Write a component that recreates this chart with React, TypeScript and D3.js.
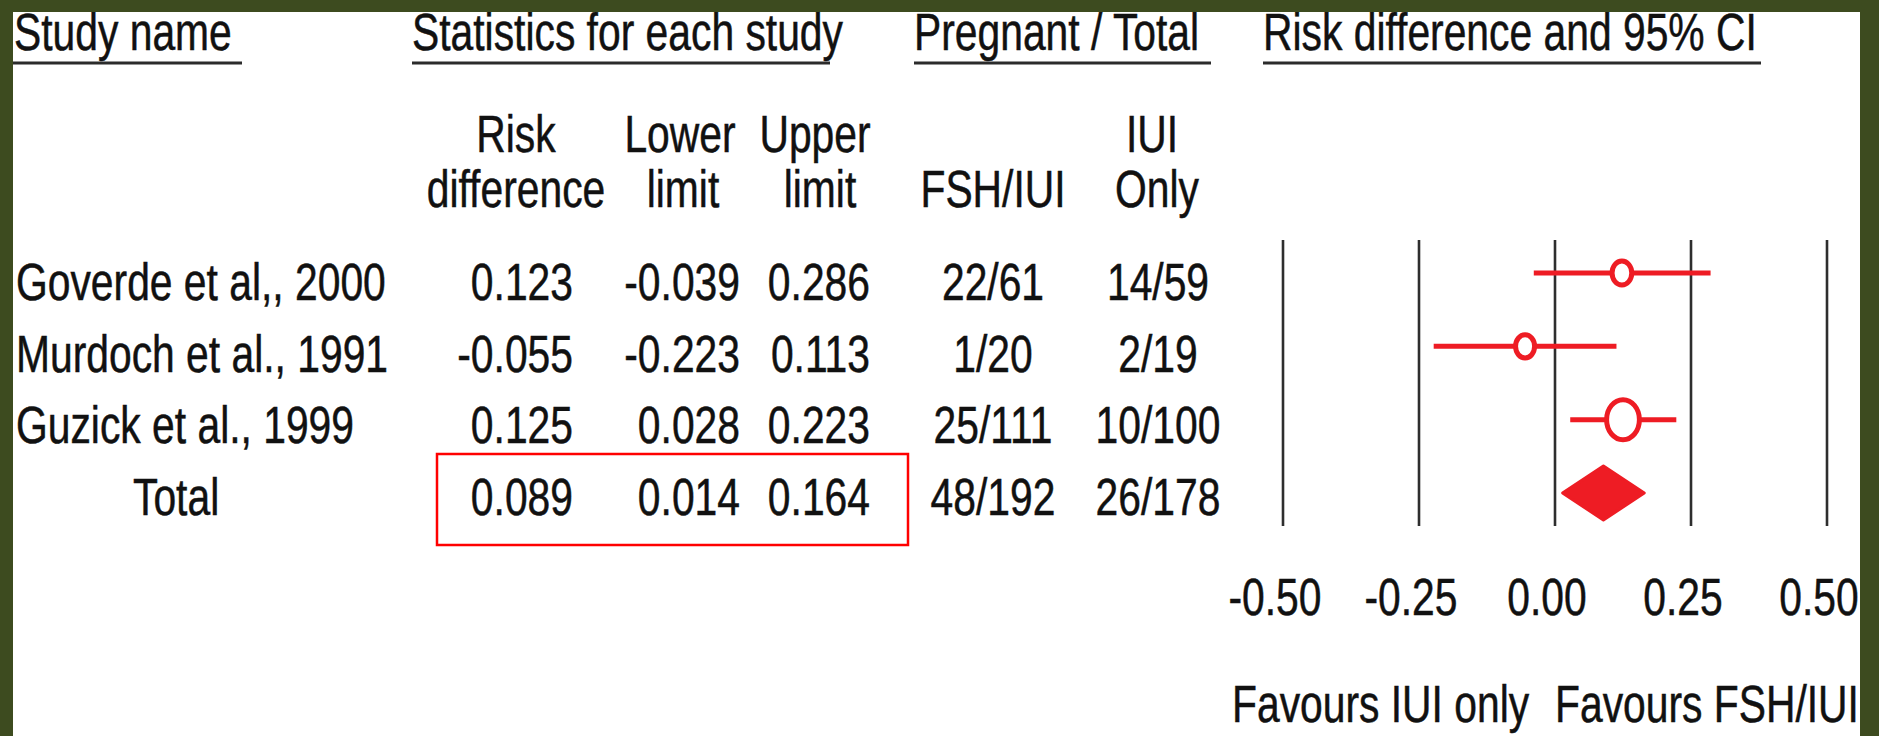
import React, { useEffect } from "react";
import * as d3 from "d3";

// Study-level data for the forest plot
const studies = ["Goverde et al,, 2000", "Murdoch et al., 1991", "Guzick et al., 1999"];
const riskDiff = [0.123, -0.055, 0.125];
const lowerLimit = [-0.039, -0.223, 0.028];
const upperLimit = [0.286, 0.113, 0.223];
const pregnantFsh = ["22/61", "1/20", "25/111"];
const pregnantIui = ["14/59", "2/19", "10/100"];

// Pooled estimate
const totalLabel = "Total";
const totalRiskDiff = 0.089;
const totalLower = 0.014;
const totalUpper = 0.164;
const totalFsh = "48/192";
const totalIui = "26/178";

const axisTicks = [-0.5, -0.25, 0, 0.25, 0.5];
const favourLabels = ["Favours IUI only", "Favours FSH/IUI"];

const W = 1879;
const H = 736;
const FONT = "'Liberation Sans', Arial, Helvetica, sans-serif";
const FS = 52;
const SX = 0.785; // narrow glyphs
const RED = "#ee1c24";
const INK = "#111";

const fmt = d3.formatLocale({ decimal: ".", thousands: ",", grouping: [3], currency: ["", ""], minus: "-" });
const f3 = fmt.format(".3f");
const f2 = fmt.format(".2f");

type TProps = { x: number; y: number; anchor?: "start" | "middle" | "end"; children: React.ReactNode };
function T({ x, y, anchor = "start", children }: TProps) {
  return (
    <text
      transform={`translate(${x},${y}) scale(${SX},1)`}
      textAnchor={anchor}
      fontFamily={FONT}
      fontSize={FS}
      fill={INK}
      stroke={INK}
      strokeWidth={0.5}
    >
      {children}
    </text>
  );
}

export default function App() {
  useEffect(() => {
    document.body.style.margin = "0";
    document.body.style.overflow = "hidden";
  }, []);

  // forest plot scale
  const x = d3.scaleLinear().domain([-0.5, 0.5]).range([1283, 1827]);
  // row positions: text baselines and marker centres
  const rowText = d3.scaleLinear().domain([0, 3]).range([300, 515]);
  const rowMark = d3.scaleLinear().domain([0, 3]).range([273, 493]);

  // marker size from inverse-variance weight
  const weights = studies.map((_, i) => {
    const se = (upperLimit[i] - lowerLimit[i]) / 3.92;
    return 1 / (se * se);
  });
  const rScale = d3.scaleSqrt().domain([0, d3.max(weights) as number]).range([0, 20]);

  // table columns
  const colName = 16;
  const colRD = 573;
  const colLow = 740;
  const colUp = 870;
  const colFsh = 993;
  const colIui = 1158;

  const plotTop = 240;
  const plotBottom = 526;

  const diamondY = rowMark(3);
  const diamond = [
    [x(totalLower), diamondY],
    [x(totalRiskDiff), diamondY - 27],
    [x(totalUpper), diamondY],
    [x(totalRiskDiff), diamondY + 27],
  ];

  const underline = (x1: number, x2: number) => (
    <line x1={x1} x2={x2} y1={63} y2={63} stroke="#2b2b2b" strokeWidth={3} />
  );

  return (
    <svg width={W} height={H} style={{ position: "absolute", left: 0, top: 0, display: "block" }}>
      <rect x={0} y={0} width={W} height={H} fill="#ffffff" />

      {/* column group headers */}
      <T x={14} y={50}>Study name</T>
      {underline(13, 242)}
      <T x={412} y={50}>Statistics for each study</T>
      {underline(412, 830)}
      <T x={914} y={50}>Pregnant / Total</T>
      {underline(914, 1211)}
      <T x={1263} y={50}>Risk difference and 95% CI</T>
      {underline(1263, 1761)}

      {/* column sub-headers */}
      <T x={516} y={152} anchor="middle">Risk</T>
      <T x={516} y={207} anchor="middle">difference</T>
      <T x={680} y={152} anchor="middle">Lower</T>
      <T x={683} y={207} anchor="middle">limit</T>
      <T x={815} y={152} anchor="middle">Upper</T>
      <T x={820} y={207} anchor="middle">limit</T>
      <T x={993} y={207} anchor="middle">FSH/IUI</T>
      <T x={1152} y={152} anchor="middle">IUI</T>
      <T x={1157} y={207} anchor="middle">Only</T>

      {/* study rows */}
      {studies.map((s, i) => (
        <g key={s}>
          <T x={colName} y={rowText(i)}>{s}</T>
          <T x={colRD} y={rowText(i)} anchor="end">{f3(riskDiff[i])}</T>
          <T x={colLow} y={rowText(i)} anchor="end">{f3(lowerLimit[i])}</T>
          <T x={colUp} y={rowText(i)} anchor="end">{f3(upperLimit[i])}</T>
          <T x={colFsh} y={rowText(i)} anchor="middle">{pregnantFsh[i]}</T>
          <T x={colIui} y={rowText(i)} anchor="middle">{pregnantIui[i]}</T>
        </g>
      ))}

      {/* pooled row */}
      <T x={133} y={rowText(3)}>{totalLabel}</T>
      <T x={colRD} y={rowText(3)} anchor="end">{f3(totalRiskDiff)}</T>
      <T x={colLow} y={rowText(3)} anchor="end">{f3(totalLower)}</T>
      <T x={colUp} y={rowText(3)} anchor="end">{f3(totalUpper)}</T>
      <T x={colFsh} y={rowText(3)} anchor="middle">{totalFsh}</T>
      <T x={colIui} y={rowText(3)} anchor="middle">{totalIui}</T>

      {/* highlight around pooled statistics */}
      <rect x={437} y={454} width={471} height={91} fill="none" stroke="#ff0000" strokeWidth={2.5} />

      {/* reference lines */}
      {axisTicks.map((t) => (
        <line key={t} x1={x(t)} x2={x(t)} y1={plotTop} y2={plotBottom} stroke="#2e2e2e" strokeWidth={2.6} />
      ))}

      {/* confidence intervals and point estimates */}
      {studies.map((s, i) => {
        const r = rScale(weights[i]);
        return (
          <g key={s}>
            <line x1={x(lowerLimit[i])} x2={x(upperLimit[i])} y1={rowMark(i)} y2={rowMark(i)} stroke={RED} strokeWidth={5} />
            <ellipse cx={x(riskDiff[i])} cy={rowMark(i)} rx={r * 0.82} ry={r} fill="#fff" stroke={RED} strokeWidth={5} />
          </g>
        );
      })}
      <polygon points={diamond.map((p) => p.join(",")).join(" ")} fill={RED} stroke={RED} strokeWidth={3} strokeLinejoin="round" />

      {/* axis labels */}
      {axisTicks.map((t) => (
        <T key={t} x={x(t) - 8} y={615} anchor="middle">{f2(t)}</T>
      ))}
      <T x={1232} y={722}>{favourLabels[0]}</T>
      <T x={1555} y={722}>{favourLabels[1]}</T>

      {/* frame */}
      <rect x={0} y={0} width={W} height={12} fill="#3d4b1f" />
      <rect x={0} y={0} width={13} height={H} fill="#3d4b1f" />
      <rect x={1860} y={0} width={W - 1860} height={H} fill="#3d4b1f" />
    </svg>
  );
}
